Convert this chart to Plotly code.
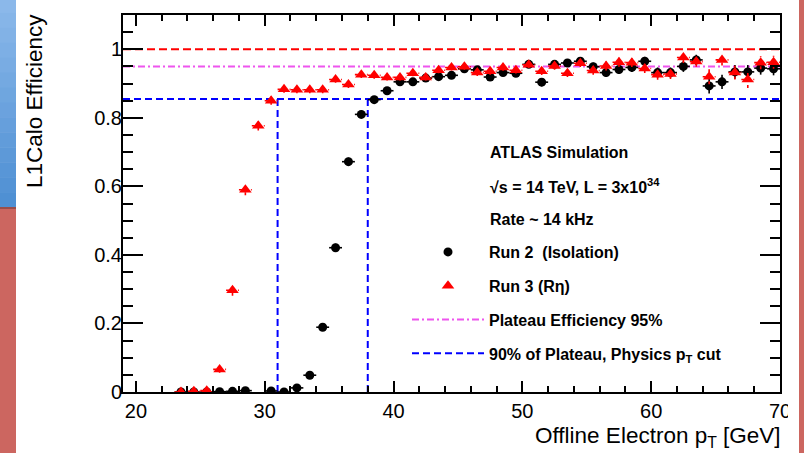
import plotly.graph_objects as go

# ---------------- data ----------------
pt_bins = [23.5, 24.5, 25.5, 26.5, 27.5, 28.5, 29.5, 30.5, 31.5, 32.5, 33.5, 34.5,
           35.5, 36.5, 37.5, 38.5, 39.5, 40.5, 41.5, 42.5, 43.5, 44.5, 45.5, 46.5,
           47.5, 48.5, 49.5, 50.5, 51.5, 52.5, 53.5, 54.5, 55.5, 56.5, 57.5, 58.5,
           59.5, 60.5, 61.5, 62.5, 63.5, 64.5, 65.5, 66.5, 67.5, 68.5, 69.5]
bin_half_width = [0.5] * len(pt_bins)

run2_eff = [0.0, 0.0, 0.0, 0.001, 0.002, 0.004, None, 0.003, 0.0, 0.012, 0.049, 0.189,
            0.421, 0.672, 0.810, 0.853, 0.879, 0.905, 0.905, 0.916, 0.920, 0.924, 0.943, 0.940,
            0.919, 0.932, 0.930, 0.956, 0.904, 0.956, 0.960, 0.965, 0.949, 0.932, 0.941, 0.947,
            0.965, 0.932, 0.932, 0.950, 0.969, 0.893, 0.905, 0.934, 0.934, 0.945, 0.943]
run2_err = [0.002, 0.002, 0.002, 0.002, 0.002, 0.002, 0.002, 0.002, 0.002, 0.004, 0.006, 0.010,
            0.012, 0.012, 0.011, 0.010, 0.009, 0.009, 0.009, 0.009, 0.009, 0.009, 0.009, 0.010,
            0.010, 0.010, 0.010, 0.010, 0.012, 0.011, 0.011, 0.011, 0.012, 0.013, 0.013, 0.013,
            0.013, 0.015, 0.015, 0.016, 0.015, 0.022, 0.021, 0.020, 0.020, 0.019, 0.019]

run3_eff = [0.0, 0.002, 0.004, 0.066, 0.297, 0.590, 0.777, 0.850, 0.883, 0.882, 0.882, 0.882,
            0.912, 0.897, 0.926, 0.924, 0.918, 0.918, 0.930, 0.918, 0.939, 0.947, 0.949, 0.932,
            0.936, 0.947, 0.939, 0.955, 0.936, 0.951, 0.930, 0.959, 0.938, 0.951, 0.962, 0.961,
            0.944, 0.926, 0.928, 0.976, 0.964, 0.920, 0.969, 0.932, 0.912, 0.961, 0.962]
run3_err = [0.002, 0.002, 0.003, 0.010, 0.016, 0.016, 0.014, 0.012, 0.010, 0.010, 0.010, 0.010,
            0.010, 0.010, 0.010, 0.010, 0.009, 0.009, 0.009, 0.009, 0.009, 0.009, 0.009, 0.010,
            0.010, 0.010, 0.010, 0.010, 0.011, 0.011, 0.011, 0.011, 0.012, 0.013, 0.013, 0.013,
            0.013, 0.015, 0.015, 0.016, 0.015, 0.022, 0.016, 0.020, 0.025, 0.019, 0.019]

x_range = [19, 70]
y_range = [0, 1.1]
full_eff = 1.0
plateau_eff = 0.95
cut_eff = 0.855
cut_pt = [31, 38]

y_tickvals = [0, 0.2, 0.4, 0.6, 0.8, 1.0]
y_ticktext = ["0", "0.2", "0.4", "0.6", "0.8", "1"]
x_tickvals = [20, 30, 40, 50, 60, 70]
x_ticktext = ["20", "30", "40", "50", "60", "70"]

FONT = "Liberation Sans, Arial, Helvetica, sans-serif"
RED = "#ff0000"
BLUE = "#0000ff"
MAGENTA = "#ee55ee"

fig = go.Figure()

# reference lines
fig.add_trace(go.Scatter(x=x_range, y=[full_eff, full_eff], mode="lines",
                         line=dict(color=RED, width=2, dash="8px,4px"),
                         showlegend=False, hoverinfo="skip"))
fig.add_trace(go.Scatter(x=x_range, y=[plateau_eff, plateau_eff], mode="lines",
                         line=dict(color=MAGENTA, width=2, dash="7px,3px,2px,3px"),
                         name="Plateau Efficiency 95%", legendgroup="g3", legendrank=3,
                         hoverinfo="skip"))
bx, by = list(x_range), [cut_eff, cut_eff]
for c in cut_pt:
    bx += [None, c, c]
    by += [None, y_range[0], cut_eff]
fig.add_trace(go.Scatter(x=bx, y=by, mode="lines",
                         line=dict(color=BLUE, width=2, dash="7px,4px"),
                         name="90% of Plateau, Physics p<sub>T</sub> cut",
                         legendgroup="g4", legendrank=4, hoverinfo="skip"))

# Run 2 (black)
fig.add_trace(go.Scatter(
    x=pt_bins, y=run2_eff, mode="markers",
    marker=dict(symbol="circle", size=9, color="black"),
    error_x=dict(type="data", array=bin_half_width, width=0, thickness=1.6, color="black"),
    error_y=dict(type="data", array=run2_err, width=0, thickness=1.6, color="black"),
    name="Run 2\u00a0 (Isolation)", legendgroup="g1", legendrank=1))

# Run 3 (red) with dotted error bars
ex, ey = [], []
for x, y, e, h in zip(pt_bins, run3_eff, run3_err, bin_half_width):
    ex += [x - h, x + h, None, x, x, None]
    ey += [y, y, None, y - e, y + e, None]
fig.add_trace(go.Scatter(x=ex, y=ey, mode="lines",
                         line=dict(color=RED, width=1.6, dash="dot"),
                         showlegend=False, hoverinfo="skip"))
fig.add_trace(go.Scatter(
    x=pt_bins, y=run3_eff, mode="markers",
    marker=dict(symbol="triangle-up", size=11, color=RED),
    name="Run 3 (R\u03b7)", legendgroup="g2", legendrank=2))

axis_common = dict(showline=True, linecolor="black", linewidth=2, mirror="allticks",
                   ticks="inside", tickcolor="black", tickwidth=1.5, showgrid=False,
                   zeroline=False, tickfont=dict(family=FONT, size=20, color="black"))

fig.update_xaxes(range=x_range, tickvals=x_tickvals, ticktext=x_ticktext, ticklen=11,
                 minor=dict(dtick=2, tick0=0, ticklen=6, ticks="inside", tickcolor="black",
                            tickwidth=1.5, showgrid=False),
                 **axis_common)
fig.update_yaxes(range=y_range, tickvals=y_tickvals, ticktext=y_ticktext, ticklen=20,
                 ticklabelstandoff=-5,
                 minor=dict(dtick=0.05, tick0=0, ticklen=10, ticks="inside", tickcolor="black",
                            tickwidth=1.5, showgrid=False),
                 **axis_common)

def px_x(p):
    return (p - 123) / 657.0

def px_y(p):
    return (392 - p) / 377.0

annotations = [
    dict(text="Offline Electron p<sub>T</sub> [GeV]", xref="paper", yref="paper",
         x=px_x(783), y=px_y(437), xanchor="right", yanchor="middle", showarrow=False,
         font=dict(family=FONT, size=22.5, color="black")),
    dict(text="L1Calo Efficiency", xref="paper", yref="paper", textangle=-90,
         x=px_x(35), y=px_y(12), xanchor="center", yanchor="top", showarrow=False,
         font=dict(family=FONT, size=22.5, color="black")),
]
info_lines = ["ATLAS Simulation", "\u221as = 14 TeV, L = 3x10<sup>34</sup>", "Rate ~ 14 kHz"]
info_y = [152, 186, 220]
for t, yy in zip(info_lines, info_y):
    annotations.append(dict(text=t, xref="paper", yref="paper", x=px_x(488), y=px_y(yy),
                            xanchor="left", yanchor="middle", showarrow=False,
                            font=dict(family=FONT, size=16, color="black", weight="bold")))

# slide decoration strips (blue gradient on top-left, red below and on the right)
shapes = []
n_steps = 14
top_rgb, bot_rgb = (139, 184, 234), (79, 144, 211)
for i in range(n_steps):
    f = i / (n_steps - 1)
    col = "rgb({},{},{})".format(*[round(a + (b - a) * f) for a, b in zip(top_rgb, bot_rgb)])
    y_top = -2 + i * (209 / n_steps)
    y_bot = -2 + (i + 1) * (209 / n_steps) + 0.5
    shapes.append(dict(type="rect", xref="paper", yref="paper", x0=px_x(-2), x1=px_x(16),
                       y0=px_y(y_bot), y1=px_y(y_top), fillcolor=col, line=dict(width=0),
                       layer="above"))
shapes += [
    dict(type="rect", xref="paper", yref="paper", x0=px_x(-2), x1=px_x(16),
         y0=px_y(455), y1=px_y(207), fillcolor="#cc6660", line=dict(width=0), layer="above"),
    dict(type="rect", xref="paper", yref="paper", x0=px_x(-2), x1=px_x(16),
         y0=px_y(209), y1=px_y(207), fillcolor="#9a4e4a", line=dict(width=0), layer="above"),
    dict(type="rect", xref="paper", yref="paper", x0=px_x(788), x1=px_x(799),
         y0=px_y(425), y1=px_y(395), fillcolor="white", line=dict(width=0), layer="above"),
    dict(type="rect", xref="paper", yref="paper", x0=px_x(799), x1=px_x(806),
         y0=px_y(455), y1=px_y(-2), fillcolor="#cc6660", line=dict(width=0), layer="above"),
]

fig.update_layout(
    width=804, height=453,
    margin=dict(l=123, r=24, t=15, b=61),
    paper_bgcolor="white", plot_bgcolor="white",
    annotations=annotations, shapes=shapes,
    showlegend=True,
    legend=dict(x=px_x(407), xanchor="left", y=px_y(235), yanchor="top",
                bgcolor="rgba(0,0,0,0)", borderwidth=0, tracegroupgap=10, itemwidth=72,
                font=dict(family=FONT, size=16, color="black", weight="bold")),
)

fig.write_html("out.html")
